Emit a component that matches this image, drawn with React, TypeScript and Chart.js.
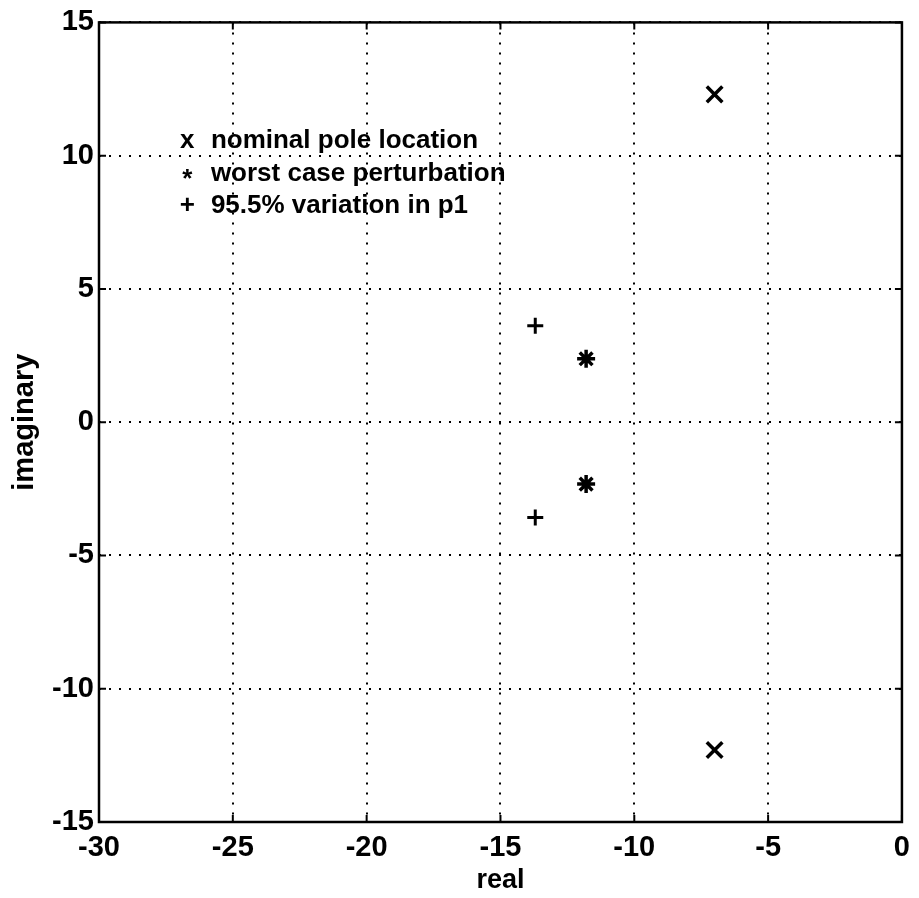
import React, { useEffect, useRef } from "react";
import { Chart, registerables } from "chart.js";

Chart.register(...registerables);

const nominalPoles = [
  { x: -7.0, y: 12.3 },
  { x: -7.0, y: -12.3 },
];
const worstCasePoles = [
  { x: -11.8, y: 2.38 },
  { x: -11.8, y: -2.32 },
];
const variationPoles = [
  { x: -13.7, y: 3.62 },
  { x: -13.7, y: -3.58 },
];
const legendSymbols = ["x", "*", "+"];
const legendTexts = ["nominal pole location", "worst case perturbation", "95.5% variation in p1"];
const xTickValues = [-30, -25, -20, -15, -10, -5, 0];
const yTickValues = [-15, -10, -5, 0, 5, 10, 15];

const FONT = '"Liberation Sans", Arial, Helvetica, sans-serif';

const framePlugin = {
  id: "frame",
  afterDraw(chart: any) {
    const { ctx, chartArea, scales } = chart;
    const { left, right, top, bottom } = chartArea;
    ctx.save();
    ctx.strokeStyle = "#000";
    ctx.lineWidth = 2.5;
    ctx.setLineDash([]);
    ctx.strokeRect(left, top, right - left, bottom - top);
    ctx.lineWidth = 2;
    const tl = 7;
    xTickValues.forEach((v) => {
      const px = scales.x.getPixelForValue(v);
      ctx.beginPath();
      ctx.moveTo(px, bottom);
      ctx.lineTo(px, bottom - tl);
      ctx.moveTo(px, top);
      ctx.lineTo(px, top + tl);
      ctx.stroke();
    });
    yTickValues.forEach((v) => {
      const py = scales.y.getPixelForValue(v);
      ctx.beginPath();
      ctx.moveTo(left, py);
      ctx.lineTo(left + tl, py);
      ctx.moveTo(right, py);
      ctx.lineTo(right - tl, py);
      ctx.stroke();
    });
    // legend text annotation
    ctx.fillStyle = "#000";
    ctx.textBaseline = "middle";
    ctx.font = `bold 26px ${FONT}`;
    const symX = scales.x.getPixelForValue(-26.7);
    const txtX = scales.x.getPixelForValue(-25.82);
    const rows = [10.56, 9.32, 8.1];
    rows.forEach((yv, i) => {
      const py = scales.y.getPixelForValue(yv);
      ctx.textAlign = "center";
      const sym = legendSymbols[i];
      ctx.fillText(sym, symX, sym === "*" ? py + 6 : py);
      ctx.textAlign = "left";
      ctx.fillText(legendTexts[i], txtX, py);
    });
    ctx.restore();
  },
};

export default function App() {
  const ref = useRef<HTMLCanvasElement | null>(null);
  useEffect(() => {
    if (!ref.current) return;
    const markerCommon = {
      borderColor: "#000",
      backgroundColor: "#000",
      borderWidth: 3,
      pointRadius: 8,
      showLine: false,
    };
    const chart = new Chart(ref.current, {
      type: "scatter",
      data: {
        datasets: [
          { label: "nominal", data: nominalPoles, pointStyle: "crossRot", ...markerCommon, pointRadius: 11, borderWidth: 3.5 },
          { label: "worst", data: worstCasePoles, pointStyle: "star", ...markerCommon, pointRadius: 9, borderWidth: 3.5 },
          { label: "variation", data: variationPoles, pointStyle: "cross", ...markerCommon },
        ],
      },
      options: {
        animation: false,
        responsive: true,
        maintainAspectRatio: false,
        layout: { padding: { top: 20, right: 17, left: 0, bottom: 0 } },
        plugins: { legend: { display: false }, tooltip: { enabled: false } },
        scales: {
          x: {
            type: "linear",
            min: -30,
            max: 0,
            afterBuildTicks: (s: any) => {
              s.ticks = xTickValues.map((v) => ({ value: v }));
            },
            afterFit: (s: any) => {
              s.height = 76;
            },
            grid: {
              color: "#000",
              lineWidth: 2,
              drawTicks: false,
            },
            border: { display: false, dash: [2, 8] },
            ticks: {
              color: "#000",
              padding: 9,
              font: { family: FONT, size: 29, weight: "bold" },
            },
            title: {
              display: true,
              text: "real",
              color: "#000",
              padding: { top: 0, bottom: 1 },
              font: { family: FONT, size: 27, weight: "bold" },
            },
          },
          y: {
            type: "linear",
            min: -15,
            max: 15,
            afterBuildTicks: (s: any) => {
              s.ticks = yTickValues.map((v) => ({ value: v }));
            },
            afterFit: (s: any) => {
              s.width = 99;
            },
            grid: {
              color: "#000",
              lineWidth: 2,
              drawTicks: false,
            },
            border: { display: false, dash: [2, 8] },
            ticks: {
              color: "#000",
              padding: 5,
              font: { family: FONT, size: 29, weight: "bold" },
            },
            title: {
              display: true,
              text: "imaginary",
              color: "#000",
              padding: { top: 8, bottom: 0 },
              font: { family: FONT, size: 29, weight: "bold" },
            },
          },
        },
      },
      plugins: [framePlugin],
    } as any);
    return () => chart.destroy();
  }, []);
  return (
    <div style={{ position: "fixed", left: 0, top: 0, width: 919, height: 898, background: "#fff" }}>
      <canvas ref={ref} />
    </div>
  );
}
